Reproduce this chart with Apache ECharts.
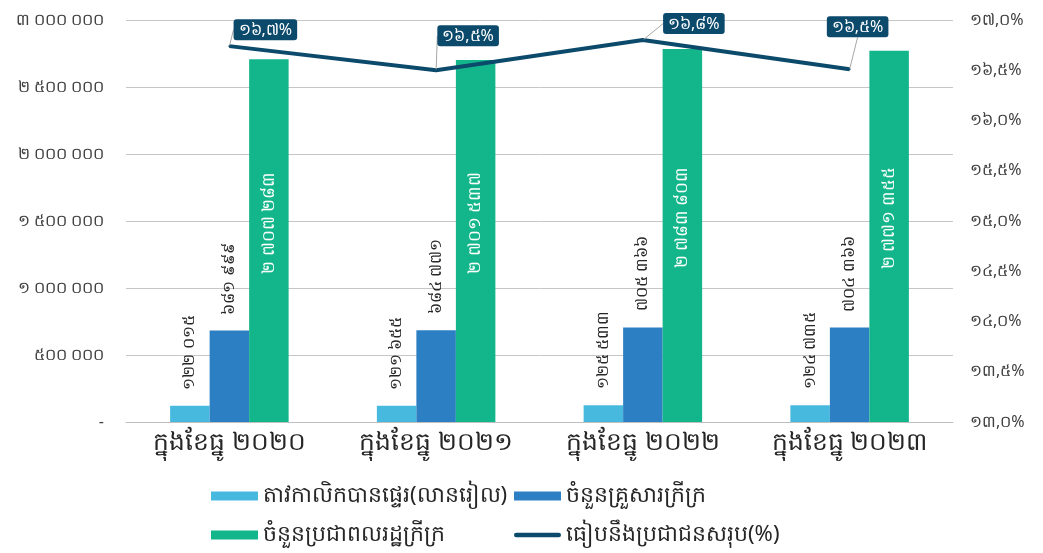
<!DOCTYPE html>
<html>
<head>
<meta charset="utf-8">
<script src="https://cdn.jsdelivr.net/npm/echarts@6/dist/echarts.min.js"></script>
<style>html,body{margin:0;padding:0;background:#fff}#c{width:1043px;height:553px}</style>
</head>
<body>
<div id="c"></div>
<script>
var categories = ['ក្នុងខែធ្នូ ២០២០', 'ក្នុងខែធ្នូ ២០២១', 'ក្នុងខែធ្នូ ២០២២', 'ក្នុងខែធ្នូ ២០២៣'];
var seriesNames = ['តាវកាលិកបានផ្ទេរ(លានរៀល)', 'ចំនួនគ្រួសារក្រីក្រ', 'ចំនួនប្រជាពលរដ្ឋក្រីក្រ', 'ធៀបនឹងប្រជាជនសរុប(%)'];
var transferValues = [122015, 121655, 125533, 124735];
var householdValues = [681999, 684771, 705366, 704366];
var peopleValues = [2707283, 2701537, 2783803, 2771355];
var ratioValues = [16.74, 16.5, 16.8, 16.51];

var labelShift = [[36, 0], [32, -18], [51, 0], [8, -26]];

var KH = '០១២៣៤៥៦៧៨៩';
function kh(s) { return String(s).replace(/[0-9]/g, function (d) { return KH[+d]; }); }
function grp(v) { return String(Math.round(v)).replace(/\B(?=(\d{3})+(?!\d))/g, ' '); }
function pct(v) { return kh(v.toFixed(1).replace('.', ',')) + '%'; }

var FONT = '"Noto Sans", "DejaVu Sans", sans-serif';
var C_LIGHT = '#47B9DE', C_BLUE = '#2C7FC2', C_GREEN = '#13B68A', C_NAVY = '#0C4A6C';

var chart = echarts.init(document.getElementById('c'), null, {renderer: 'canvas'});
var barLabelTop = {
  show: true, position: 'top', rotate: 90, align: 'left', verticalAlign: 'middle',
  distance: 16, fontSize: 16, color: '#262626', fontFamily: FONT,
  formatter: function (p) { return kh(grp(p.value)); }
};
var legendText = {fontSize: 22, color: '#262626', fontFamily: FONT};
chart.setOption({
  animation: false,
  textStyle: {fontFamily: FONT},
  grid: {left: 126, right: 90, top: 20, bottom: 131},
  legend: [{
    data: [seriesNames[0], seriesNames[2]], orient: 'vertical', left: 206, top: 480,
    itemWidth: 47, itemHeight: 9, itemGap: 17, icon: 'rect', textStyle: legendText
  }, {
    data: [seriesNames[1], {name: seriesNames[3], icon: 'path://M3,0 L97,0 A5,5 0 0 1 97,10 L3,10 A5,5 0 0 1 3,0 Z'}],
    orient: 'vertical', left: 509, top: 480,
    itemWidth: 47, itemHeight: 9, itemGap: 17, icon: 'rect', textStyle: legendText
  }],
  xAxis: {
    type: 'category', data: categories,
    axisLine: {lineStyle: {color: '#BFBFBF', width: 1}},
    axisTick: {show: false},
    axisLabel: {fontSize: 25, color: '#262626', margin: 8, fontFamily: FONT}
  },
  yAxis: [{
    type: 'value', min: 0, max: 3000000, interval: 500000,
    axisLine: {show: false}, axisTick: {show: false},
    splitLine: {lineStyle: {color: '#C6C6C6', width: 1}},
    axisLabel: {fontSize: 16, color: '#404040', margin: 22, fontFamily: FONT,
      formatter: function (v) { return v === 0 ? '-' : kh(grp(v)); }}
  }, {
    type: 'value', min: 13, max: 17, interval: 0.5, position: 'right',
    axisLine: {show: false}, axisTick: {show: false}, splitLine: {show: false},
    axisLabel: {fontSize: 16, color: '#404040', margin: 17, fontFamily: FONT,
      formatter: function (v) { return pct(v); }}
  }],
  series: [{
    name: seriesNames[0], type: 'bar', data: transferValues, barWidth: 39.5, barGap: '0%',
    itemStyle: {color: C_LIGHT}, label: barLabelTop
  }, {
    name: seriesNames[1], type: 'bar', data: householdValues, barWidth: 39.5, barGap: '0%',
    itemStyle: {color: C_BLUE}, label: barLabelTop
  }, {
    name: seriesNames[2], type: 'bar', data: peopleValues, barWidth: 39.5, barGap: '0%',
    itemStyle: {color: C_GREEN},
    label: {show: true, position: 'inside', rotate: 90, offset: [18, 0], fontSize: 17, color: '#ffffff', fontFamily: FONT,
      formatter: function (p) { return kh(grp(p.value)); }}
  }, {
    name: seriesNames[3], type: 'line', yAxisIndex: 1, data: ratioValues,
    showSymbol: true, symbol: 'circle', symbolSize: 2,
    lineStyle: {color: C_NAVY, width: 4}, itemStyle: {color: C_NAVY},
    label: {show: true, position: 'top', distance: 5, backgroundColor: C_NAVY, color: '#ffffff',
      fontSize: 16, padding: [3, 5, 2, 5], borderRadius: 3, fontFamily: FONT,
      formatter: function (p) { return pct(p.value); }},
    labelLine: {show: true, showAbove: true, lineStyle: {color: '#A6A6A6', width: 1}},
    labelLayout: function (p) { var s = labelShift[p.dataIndex]; return {dx: s[0], dy: s[1]}; }
  }]
});
</script>
</body>
</html>
